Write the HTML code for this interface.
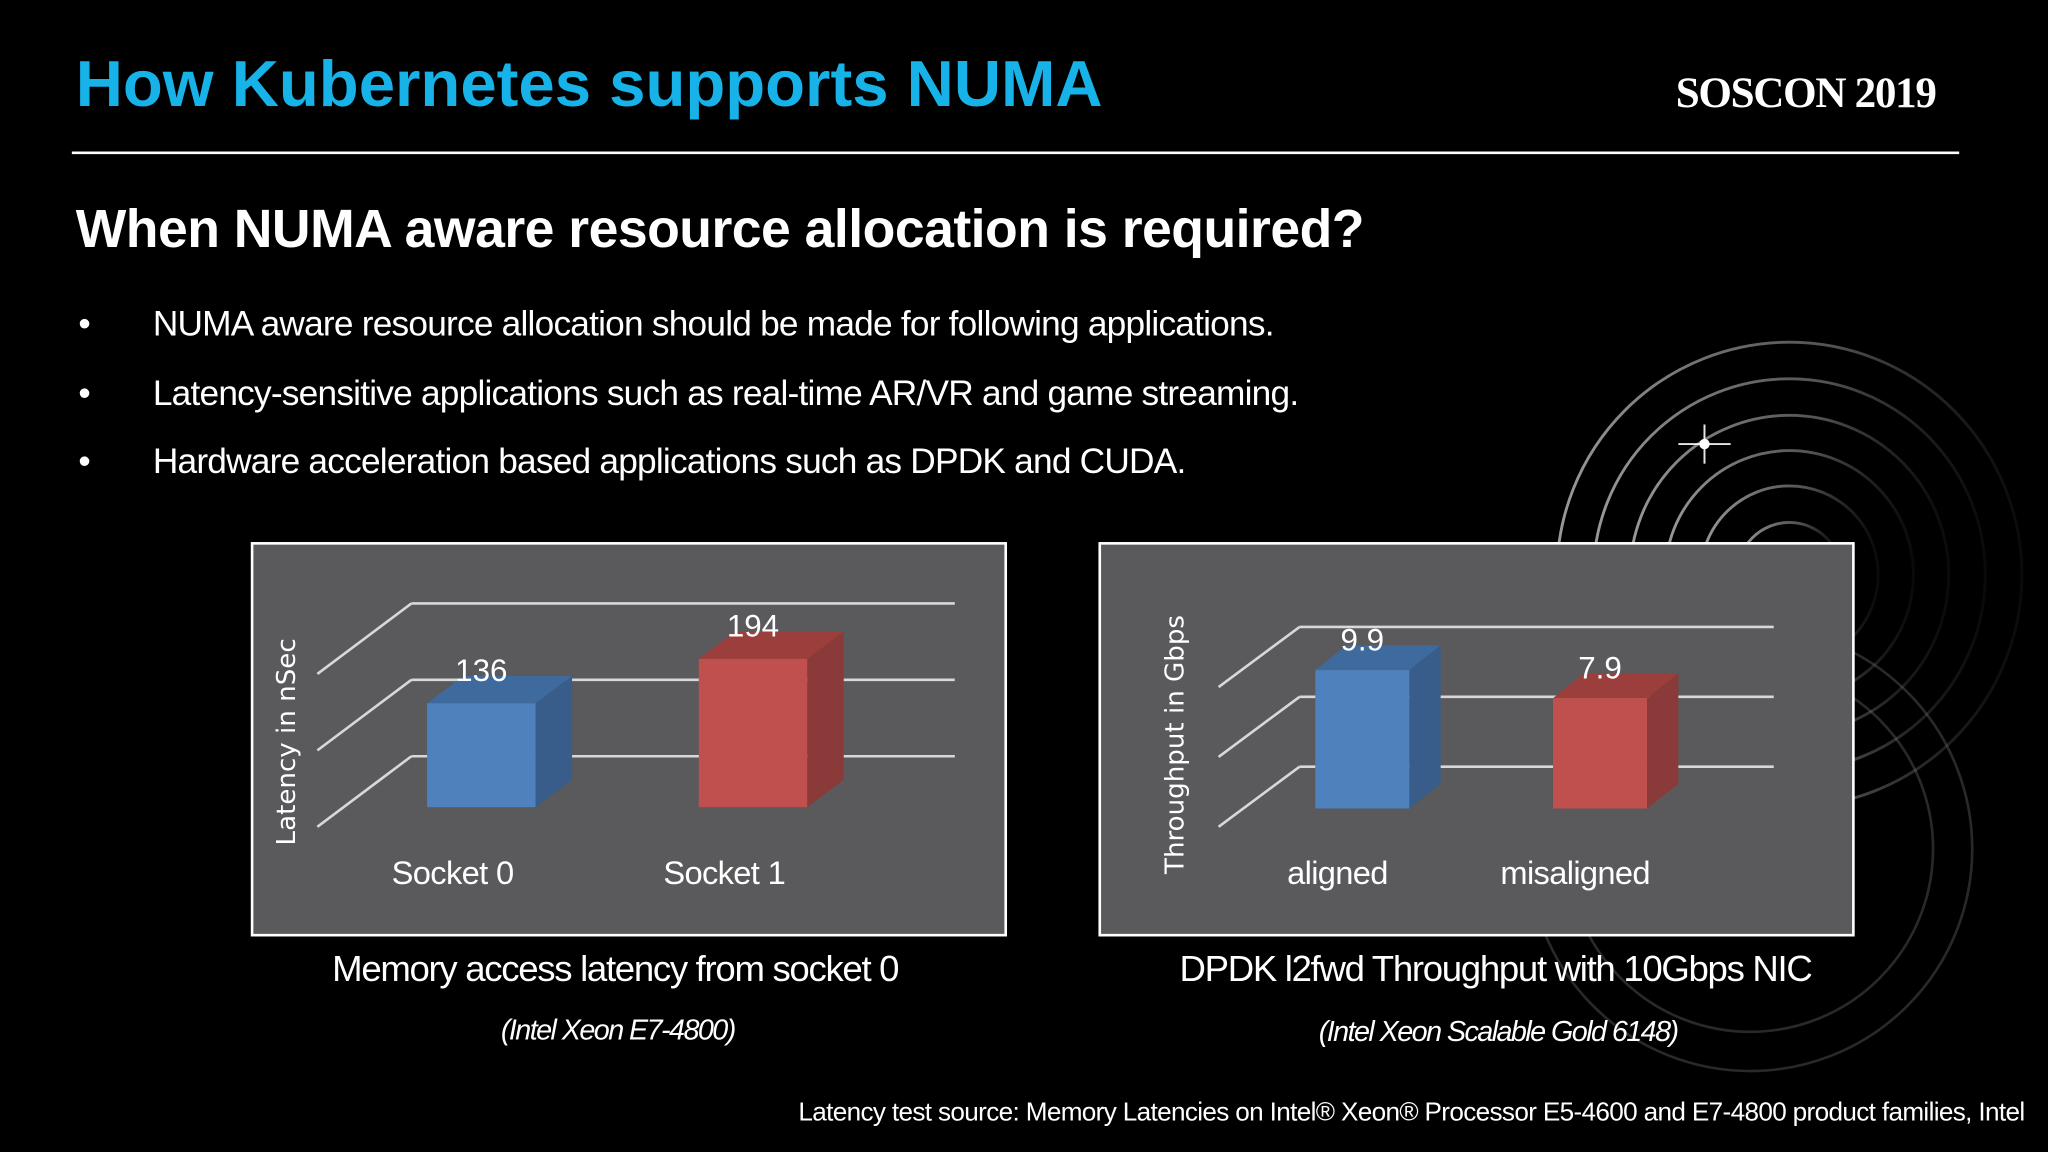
<!DOCTYPE html>
<html><head><meta charset="utf-8">
<style>
html,body{margin:0;padding:0;background:#000;width:2048px;height:1152px;overflow:hidden}
#stage{position:absolute;left:0;top:0;width:1568px;height:882px;transform:scale(1.306122);transform-origin:0 0;background:#000;font-family:"Liberation Sans",sans-serif;color:#fff}
.t{position:absolute;white-space:nowrap}
</style></head><body>
<div id="stage">
<svg id="deco" width="1568" height="882" style="position:absolute;left:0;top:0">
  <defs>
    <linearGradient id="fade" x1="0" x2="1" y1="0" y2="0">
      <stop offset="0" stop-color="#aaa" stop-opacity="0.9"/>
      <stop offset="0.6" stop-color="#888" stop-opacity="0.6"/>
      <stop offset="1" stop-color="#444" stop-opacity="0.15"/>
    </linearGradient>
  </defs>
  <g fill="none" stroke="url(#fade)" stroke-width="2.2">
    <circle cx="1370" cy="440" r="178"/>
    <circle cx="1370" cy="440" r="150"/>
    <circle cx="1370" cy="440" r="122"/>
    <circle cx="1370" cy="440" r="95"/>
    <circle cx="1370" cy="440" r="68"/>
    <circle cx="1370" cy="440" r="40"/>
  </g>
  <g fill="none" stroke="#777" stroke-width="2" opacity="0.35">
    <circle cx="1340" cy="650" r="170"/>
    <circle cx="1340" cy="650" r="140"/>
  </g>
  <g stroke="#fff" stroke-width="1.5" opacity="0.9">
    <line x1="1285" y1="340" x2="1325" y2="340"/>
    <line x1="1305" y1="325" x2="1305" y2="355"/>
  </g>
  <circle cx="1305" cy="340" r="4" fill="#fff"/>
</svg>

<div class="t" style="left:58px;top:35px;font-size:50px;font-weight:bold;color:#16b2e8;letter-spacing:0px">How Kubernetes supports NUMA</div>
<div class="t" style="left:1283px;top:54px;font-family:'Liberation Serif',serif;font-weight:bold;font-size:33px;letter-spacing:-1px">SOSCON 2019</div>
<div style="position:absolute;left:55px;top:116px;width:1445px;height:2px;background:#fff"></div>
<div class="t" style="left:58px;top:152px;font-size:41px;font-weight:bold;letter-spacing:-0.4px">When NUMA aware resource allocation is required?</div>

<div>
  <div class="t" style="left:60px;top:233px;font-size:27px;letter-spacing:-0.6px">•<span style="position:absolute;left:57px">NUMA aware resource allocation should be made for following applications.</span></div>
  <div class="t" style="left:60px;top:286px;font-size:27px;letter-spacing:-0.6px">•<span style="position:absolute;left:57px">Latency-sensitive applications such as real-time AR/VR and game streaming.</span></div>
  <div class="t" style="left:60px;top:338px;font-size:27px;letter-spacing:-0.6px">•<span style="position:absolute;left:57px">Hardware acceleration based applications such as DPDK and CUDA.</span></div>
</div>

<svg id="charts" width="1568" height="882" style="position:absolute;left:0;top:0" font-family="Liberation Sans, sans-serif"></svg>

<div class="t" style="left:471px;top:726px;transform:translateX(-50%);font-size:28px;letter-spacing:-1px">Memory access latency from socket 0</div>
<div class="t" style="left:473px;top:776px;transform:translateX(-50%);font-size:22px;font-style:italic;letter-spacing:-1.2px">(Intel Xeon E7-4800)</div>
<div class="t" style="left:1145px;top:726px;transform:translateX(-50%);font-size:28px;letter-spacing:-1px">DPDK l2fwd Throughput with 10Gbps NIC</div>
<div class="t" style="left:1147px;top:777px;transform:translateX(-50%);font-size:22px;font-style:italic;letter-spacing:-1.2px">(Intel Xeon Scalable Gold 6148)</div>
<div class="t" style="right:18px;top:841px;font-size:20px;letter-spacing:-0.5px">Latency test source: Memory Latencies on Intel® Xeon® Processor E5-4600 and E7-4800 product families, Intel</div>
</div>

<script>
const latencyCategories = ["Socket 0", "Socket 1"];
const latencyValues = [136, 194];
const latencyTicks = [0, 100, 200];
const throughputCategories = ["aligned", "misaligned"];
const throughputValues = [9.9, 7.9];
const throughputTicks = [0, 5, 10];

const NS = "http://www.w3.org/2000/svg";
const svg = document.getElementById('charts');
function mk(tag, attrs, parent) {
  const e = document.createElementNS(NS, tag);
  for (const k in attrs) e.setAttribute(k, attrs[k]);
  (parent || svg).appendChild(e);
  return e;
}
const frontCols = ["#4f81bd", "#c0504d"];
const sideCols = ["#385d8a", "#8a3a38"];
const topCols = ["#3f6a9e", "#9c3f3c"];

function drawChart(cfg, cats, vals, ticks, name) {
  const g = mk('g', {});
  
  
  const box = mk('rect', {x: cfg.bx, y: cfg.by, width: cfg.bw, height: cfg.bh, fill: '#5a595b', stroke: '#fff', 'stroke-width': 2}, g);
  
  
  const maxT = ticks[ticks.length - 1];
  const scale = cfg.gridSpan / maxT;
  const yBack = v => cfg.backBase - v * scale;
  ticks.forEach(t => {
    const y = yBack(t);
    const gl = mk('line', {x1: cfg.backX, y1: y, x2: cfg.backX2, y2: y, stroke: '#d8d8d8', 'stroke-width': 2}, g);
    
    
    const dl = mk('line', {x1: cfg.backX - cfg.dx, y1: y + cfg.dy, x2: cfg.backX, y2: y, stroke: '#d8d8d8', 'stroke-width': 2}, g);
    
    
  });
  const yFront = v => cfg.base - v * scale;
  vals.forEach((v, i) => {
    const x = cfg.x0 + i * cfg.step, w = cfg.bw0, top = yFront(v), bot = cfg.base;
    const bg = mk('g', {}, g);
    
    
    mk('polygon', {points: `${x},${top} ${x+cfg.ddx},${top-cfg.ddy} ${x+w+cfg.ddx},${top-cfg.ddy} ${x+w},${top}`, fill: topCols[i]}, bg);
    mk('polygon', {points: `${x+w},${top} ${x+w+cfg.ddx},${top-cfg.ddy} ${x+w+cfg.ddx},${bot-cfg.ddy} ${x+w},${bot}`, fill: sideCols[i]}, bg);
    mk('rect', {x: x, y: top, width: w, height: bot - top, fill: frontCols[i]}, bg);
    const lbl = mk('text', {x: x + w / 2, y: top - cfg.ddy + 4, 'text-anchor': 'middle', fill: '#fff', 'font-size': 24}, g);
    lbl.textContent = String(v);
    
    
    const cl = mk('text', {x: x + w / 2 - cfg.catShift, y: 677, 'text-anchor': 'middle', fill: '#fff', 'font-size': 25, 'letter-spacing': '-0.5'}, g);
    cl.textContent = cats[i];
    
    
  });
  const at = mk('text', {x: 0, y: 0, transform: `translate(${cfg.titleX},${cfg.titleY}) rotate(-90)`, 'text-anchor': 'middle', fill: '#fff', 'font-size': 20, 'font-family': 'DejaVu Sans, sans-serif'}, g);
  at.textContent = cfg.title;
  
  
}

drawChart({bx: 193, by: 416, bw: 577, bh: 300, backX: 315, backX2: 731, backBase: 579, gridSpan: 117,
  dx: 72, dy: 54, base: 618, x0: 327, step: 208, bw0: 83, ddx: 28, ddy: 21, catShift: 22,
  titleX: 226, titleY: 568, title: 'Latency in nSec'}, latencyCategories, latencyValues, latencyTicks, 'latency-chart');

drawChart({bx: 842, by: 416, bw: 577, bh: 300, backX: 995, backX2: 1358, backBase: 587, gridSpan: 107,
  dx: 62, dy: 46, base: 619, x0: 1007, step: 182, bw0: 72, ddx: 24, ddy: 19, catShift: 19,
  titleX: 906, titleY: 570, title: 'Throughput in Gbps'}, throughputCategories, throughputValues, throughputTicks, 'throughput-chart');
</script>
</body></html>
